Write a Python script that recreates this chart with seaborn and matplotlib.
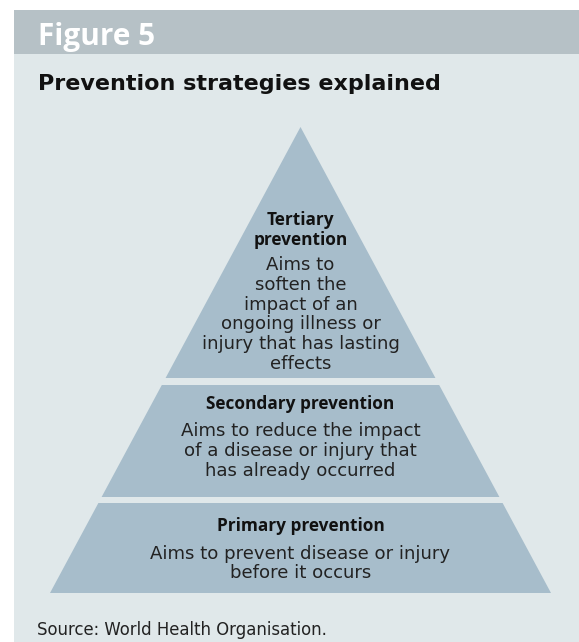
import matplotlib.pyplot as plt
import seaborn as sns
from matplotlib.patches import Polygon, Rectangle

# 図の文言
figure_label = "Figure 5"
title = "Prevention strategies explained"
source = "Source: World Health Organisation."
levels = ["Tertiary\nprevention", "Secondary prevention", "Primary prevention"]
descriptions = [
    "Aims to\nsoften the\nimpact of an\nongoing illness or\ninjury that has lasting\neffects",
    "Aims to reduce the impact\nof a disease or injury that\nhas already occurred",
    "Aims to prevent disease or injury\nbefore it occurs",
]

sns.set_style("white")
plt.rcParams['font.family'] = ['DejaVu Sans']

W, H = 579, 642
fig = plt.figure(figsize=(W / 100, H / 100), dpi=100)
ax = fig.add_axes([0, 0, 1, 1])
ax.set_xlim(0, W)
ax.set_ylim(H, 0)
ax.axis('off')

# 背景
ax.add_patch(Rectangle((14, 10), W - 14, 44, color='#b6c1c6', lw=0))
ax.add_patch(Rectangle((14, 54), W - 14, H - 54, color='#e0e8ea', lw=0))
ax.text(38, 45, figure_label, fontsize=21.4, fontweight='bold', color='white',
        family='Open Sans', va='baseline')
ax.text(38, 90, title, fontsize=16, fontweight='bold', color='#111111',
        va='baseline')

# ピラミッド
apex_x, apex_y = 300.5, 127
base_y, half_base = 593, 250.5
bands = [(127, 378), (385, 497), (503, 593)]


def half(y):
    return half_base * (y - apex_y) / (base_y - apex_y)


for top, bot in bands:
    pts = [(apex_x - half(top), top), (apex_x + half(top), top),
           (apex_x + half(bot), bot), (apex_x - half(bot), bot)]
    ax.add_patch(Polygon(pts, closed=True, color='#a7bdcb', lw=0))

head_y = [230, 404, 526]
desc_y = [314.5, 451, 563.5]
for lab, desc, hy, dy in zip(levels, descriptions, head_y, desc_y):
    ax.text(apex_x, hy, lab, fontsize=12.4, fontweight='bold', color='#111111',
            family='Open Sans', ha='center', va='center', linespacing=1.15)
    ax.text(apex_x, dy, desc, fontsize=13.1, color='#222222',
            ha='center', va='center', linespacing=1.13)

ax.text(37, 635, source, fontsize=11.9, color='#222222', va='baseline')

fig.savefig('out.png', dpi=100)
